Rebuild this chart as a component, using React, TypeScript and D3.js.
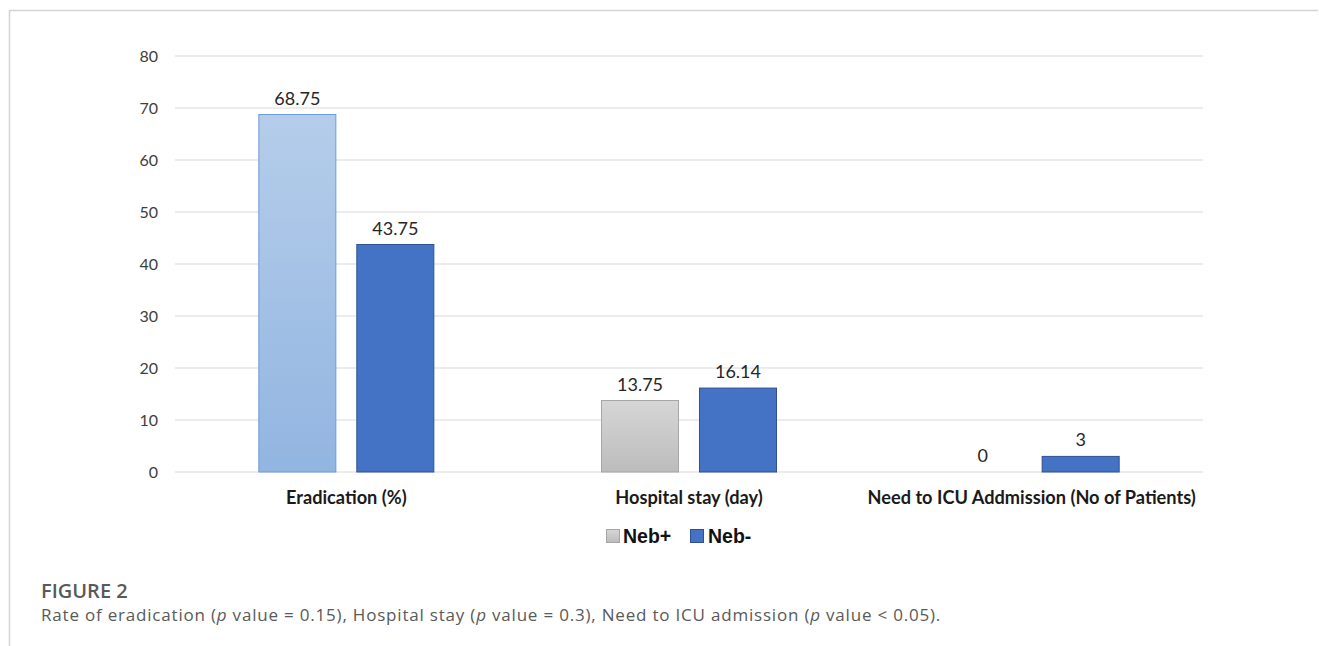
import React from "react";
import * as d3 from "d3";

const categories = ["Eradication (%)", "Hospital stay (day)", "Need to ICU Addmission (No of Patients)"];
const seriesNames = ["Neb+", "Neb-"];
const nebPlus = [68.75, 13.75, 0];
const nebMinus = [43.75, 16.14, 3];
const nebPlusLabels = ["68.75", "13.75", "0"];
const nebMinusLabels = ["43.75", "16.14", "3"];
const yTicks = [0, 10, 20, 30, 40, 50, 60, 70, 80];

const W = 1319;
const H = 646;
const left = 175;
const right = 1203;
const top = 56;
const bottom = 472;

export default function App() {
  const x = d3.scaleBand<string>().domain(categories).range([left, right]).padding(0);
  const bw = x.bandwidth();
  const inner = d3
    .scaleBand<string>()
    .domain(seriesNames)
    .range([bw / 2 - 87.5, bw / 2 + 87.5])
    .paddingInner(0.214)
    .paddingOuter(0);
  const y = d3.scaleLinear().domain([0, 80]).range([bottom, top]);
  const nebPlusFill = ["url(#gBlue)", "url(#gGrey)", "url(#gGrey)"];
  const nebPlusStroke = ["#6f9ad4", "#a6a6a6", "#a6a6a6"];
  const labelFont = "Lato, 'Open Sans', sans-serif";

  return (
    <div style={{ position: "absolute", left: 0, top: 0 }}>
      <svg width={W} height={H} style={{ display: "block", background: "#fff" }}>
        <defs>
          <linearGradient id="gBlue" x1="0" y1="0" x2="0" y2="1">
            <stop offset="0" stopColor="#b5cdea" />
            <stop offset="1" stopColor="#92b5e1" />
          </linearGradient>
          <linearGradient id="gGrey" x1="0" y1="0" x2="0" y2="1">
            <stop offset="0" stopColor="#d6d6d6" />
            <stop offset="1" stopColor="#bcbcbc" />
          </linearGradient>
        </defs>
        {/* frame */}
        <line x1={9.5} y1={10} x2={9.5} y2={H} stroke="#d4d4d4" strokeWidth={1.5} />
        <line x1={9} y1={10.5} x2={1318} y2={10.5} stroke="#d4d4d4" strokeWidth={1.5} />

        {/* gridlines & y ticks */}
        {yTicks.map((t) => (
          <g key={t}>
            <line x1={left} x2={right} y1={y(t)} y2={y(t)} stroke="#d9d9d9" strokeWidth={1.2} />
            <text
              x={158}
              y={y(t) + 5.5}
              textAnchor="end"
              fontFamily={labelFont}
              fontSize={16}
              fill="#404040"
            >
              {t}
            </text>
          </g>
        ))}

        {/* bars */}
        {categories.map((c, i) => {
          const x0 = (x(c) ?? 0) + (inner("Neb+") ?? 0);
          const x1 = (x(c) ?? 0) + (inner("Neb-") ?? 0);
          const w = inner.bandwidth();
          return (
            <g key={c}>
              {nebPlus[i] > 0 && (
                <rect
                  x={x0}
                  y={y(nebPlus[i])}
                  width={w}
                  height={y(0) - y(nebPlus[i])}
                  fill={nebPlusFill[i]}
                  stroke={nebPlusStroke[i]}
                  strokeWidth={1}
                />
              )}
              {nebMinus[i] > 0 && (
                <rect
                  x={x1}
                  y={y(nebMinus[i])}
                  width={w}
                  height={y(0) - y(nebMinus[i])}
                  fill="#4472c4"
                  stroke="#2f528f"
                  strokeWidth={1}
                />
              )}
              <text
                x={x0 + w / 2}
                y={y(nebPlus[i]) - 10}
                textAnchor="middle"
                fontFamily={labelFont}
                fontSize={18}
                fill="#262626"
              >
                {nebPlusLabels[i]}
              </text>
              <text
                x={x1 + w / 2}
                y={y(nebMinus[i]) - 10}
                textAnchor="middle"
                fontFamily={labelFont}
                fontSize={18}
                fill="#262626"
              >
                {nebMinusLabels[i]}
              </text>
              <text
                x={(x(c) ?? 0) + bw / 2}
                y={503.5}
                textAnchor="middle"
                fontFamily={labelFont}
                fontSize={18.2}
                fontWeight="bold"
                fill="#1a1a1a"
              >
                {c}
              </text>
            </g>
          );
        })}

        {/* legend */}
        <g fontFamily="'Liberation Sans', Arial, sans-serif" fontWeight="bold" fontSize={19.5} fill="#111">
          <rect x={606.5} y={529.5} width={13} height={13} fill="url(#gGrey)" stroke="#a6a6a6" />
          <text x={623} y={543}>{seriesNames[0]}</text>
          <rect x={690.5} y={529.5} width={13} height={13} fill="#4472c4" stroke="#2f528f" />
          <text x={708} y={543}>{seriesNames[1]}</text>
        </g>

        {/* caption */}
        <text x={41} y={598} fontFamily="'Open Sans', sans-serif" fontSize={20} fontWeight={600} fill="#595959">
          FIGURE 2
        </text>
        <text
          x={41}
          y={621}
          fontFamily="'Open Sans', sans-serif"
          fontSize={17}
          letterSpacing={0.8}
          fill="#595959"
        >
          Rate of eradication (<tspan fontStyle="italic">p</tspan> value = 0.15), Hospital stay (
          <tspan fontStyle="italic">p</tspan> value = 0.3), Need to ICU admission (
          <tspan fontStyle="italic">p</tspan> value &lt; 0.05).
        </text>
      </svg>
    </div>
  );
}
